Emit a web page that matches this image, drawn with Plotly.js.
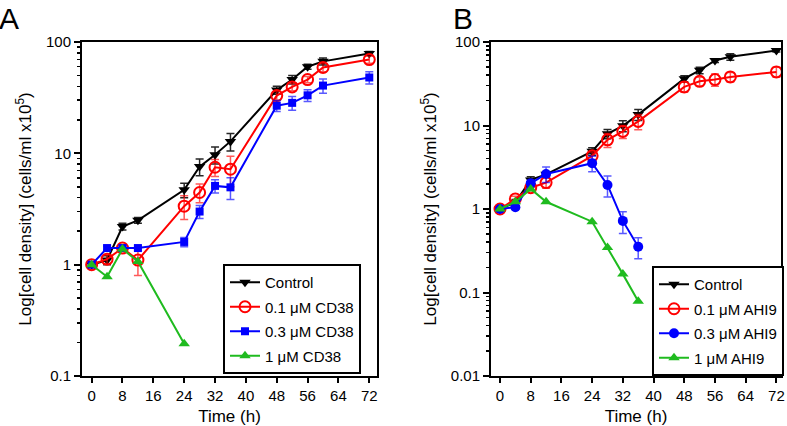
<!DOCTYPE html>
<html>
<head>
<meta charset="utf-8">
<script src="https://cdn.plot.ly/plotly-3.0.1.min.js"></script>
<style>html,body{margin:0;padding:0;background:#fff;}#chart{width:787px;height:426px;}</style>
</head>
<body>
<div id="chart"></div>
<script>
// ---- Data ----
const timeFull = [0, 4, 8, 12, 24, 28, 32, 36, 48, 52, 56, 60, 72];
const timeCD1 = [0, 4, 8, 12, 24];
const timeAHI = [0, 4, 8, 12, 24, 28, 32, 36];

// Panel A
const ctrlA = [1.0, 1.1, 2.2, 2.5, 4.7, 7.6, 9.7, 12.8, 37, 46, 60, 67, 79];
const ctrlAErr = [0.05, 0.1, 0.15, 0.15, 0.7, 1.3, 1.7, 2.3, 3, 4, 3, 5, 3];
const cd01 = [1.0, 1.12, 1.41, 1.1, 3.35, 4.45, 7.5, 7.2, 33, 39.5, 46, 59, 69.5];
const cd01Err = [0.05, 0.1, 0.1, 0.3, 0.8, 0.85, 1.3, 2.2, 3, 3, 3, 5, 5];
const cd03 = [1.0, 1.41, 1.41, 1.41, 1.6, 3.0, 5.1, 4.95, 26.8, 28.4, 33.2, 40.6, 48];
const cd03Err = [0.05, 0.06, 0.05, 0.06, 0.15, 0.4, 0.7, 1.1, 3, 4, 4, 6, 6];
const cd1 = [1.0, 0.78, 1.38, 1.07, 0.195];

// Panel B
const ctrlB = [1.0, 1.2, 2.23, 2.6, 4.9, 7.95, 9.9, 13.5, 36.4, 45.8, 60, 66.4, 79];
const ctrlBErr = [0.05, 0.1, 0.2, 0.2, 0.5, 1.0, 1.5, 2.0, 3, 4, 3, 6, 3];
const ahi01 = [1.0, 1.32, 1.8, 2.07, 4.33, 6.74, 8.5, 11.2, 29, 33.8, 35.5, 38.2, 43.8];
const ahi01Err = [0.05, 0.1, 0.15, 0.3, 0.5, 1.3, 1.5, 2.3, 4, 4, 6, 5, 6];
const ahi03 = [1.0, 1.05, 2.03, 2.63, 3.54, 1.94, 0.72, 0.353];
const ahi03Err = [0.05, 0.05, 0.2, 0.55, 0.75, 0.55, 0.21, 0.1];
const ahi1 = [1.0, 1.22, 1.74, 1.22, 0.705, 0.347, 0.166, 0.0785];

const namesA = ['Control', '0.1 \u03bcM CD38', '0.3 \u03bcM CD38', '1 \u03bcM CD38'];
const namesB = ['Control', '0.1 \u03bcM AHI9', '0.3 \u03bcM AHI9', '1 \u03bcM AHI9'];

const xTickVals = [0, 8, 16, 24, 32, 40, 48, 56, 64, 72];
const xTickText = ['0', '8', '16', '24', '32', '40', '48', '56', '64', '72'];
const yTickValsA = [0.1, 1, 10, 100];
const yTickTextA = ['0.1', '1', '10', '100'];
const yTickValsB = [0.01, 0.1, 1, 10, 100];
const yTickTextB = ['0.01', '0.1', '1', '10', '100'];

// ---- Styling ----
const FONT = 'Liberation Sans, Arial, Helvetica, sans-serif';
const BLACK = '#000000', RED = '#ff0000', BLUE = '#0000ff', GREEN = '#1fbb1f';
const ERR_RED = 'rgba(255,0,0,0.65)', ERR_BLUE = 'rgba(0,0,255,0.65)', ERR_BLACK = 'rgba(0,0,0,0.85)';

function errBar(arr, color) {
  return { type: 'data', array: arr, visible: true, color: color, thickness: 1.5, width: 4 };
}
function tr(x, y, err, name, color, errColor, sym, size, xa, ya, leg, group) {
  const open = sym.indexOf('open') >= 0;
  const t = {
    x: x, y: y, name: name, type: 'scatter', mode: 'lines+markers',
    xaxis: xa, yaxis: ya, legend: leg, legendgroup: group,
    line: { color: color, width: 2 },
    marker: { symbol: sym, size: size, color: color,
              line: { color: color, width: open ? 2 : 0 } },
    cliponaxis: false
  };
  if (err) t.error_y = errBar(err, errColor);
  return t;
}

const data = [
  tr(timeFull, ctrlA, ctrlAErr, namesA[0], BLACK, ERR_BLACK, 'triangle-down', 10, 'x', 'y', 'legend', 'a0'),
  tr(timeFull, cd01, cd01Err, namesA[1], RED, ERR_RED, 'circle-open', 11, 'x', 'y', 'legend', 'a1'),
  tr(timeFull, cd03, cd03Err, namesA[2], BLUE, ERR_BLUE, 'square', 8, 'x', 'y', 'legend', 'a2'),
  tr(timeCD1, cd1, null, namesA[3], GREEN, GREEN, 'triangle-up', 10, 'x', 'y', 'legend', 'a3'),
  tr(timeFull, ctrlB, ctrlBErr, namesB[0], BLACK, ERR_BLACK, 'triangle-down', 10, 'x2', 'y2', 'legend2', 'b0'),
  tr(timeFull, ahi01, ahi01Err, namesB[1], RED, ERR_RED, 'circle-open', 11, 'x2', 'y2', 'legend2', 'b1'),
  tr(timeAHI, ahi03, ahi03Err, namesB[2], BLUE, ERR_BLUE, 'circle', 10, 'x2', 'y2', 'legend2', 'b2'),
  tr(timeAHI, ahi1, null, namesB[3], GREEN, GREEN, 'triangle-up', 10, 'x2', 'y2', 'legend2', 'b3')
];

const W = 787, H = 426;
function xa(domain, range) {
  return {
    domain: domain, range: range, type: 'linear',
    tickmode: 'array', tickvals: xTickVals, ticktext: xTickText,
    ticks: 'outside', ticklen: 5, tickwidth: 2, tickcolor: 'black',
    showline: true, linewidth: 2, linecolor: 'black', mirror: true,
    showgrid: false, zeroline: false,
    tickfont: { family: FONT, size: 15, color: 'black' },
    title: { text: 'Time (h)', font: { family: FONT, size: 17, color: 'black' }, standoff: 8 },
    automargin: false
  };
}
function ya(domain, range, vals, text, anchor) {
  return {
    domain: domain, range: range, type: 'log', anchor: anchor,
    tickmode: 'array', tickvals: vals, ticktext: text,
    ticks: 'outside', ticklen: 6, tickwidth: 2, tickcolor: 'black',
    minor: { ticks: 'outside', ticklen: 3, tickwidth: 1.5, tickcolor: 'black', dtick: 'D1', showgrid: false },
    showline: true, linewidth: 2, linecolor: 'black', mirror: true,
    showgrid: false, zeroline: false,
    tickfont: { family: FONT, size: 15, color: 'black' },
    title: { text: 'Log[cell density] (cells/ml x10<sup>5</sup>)', font: { family: FONT, size: 17, color: 'black' }, standoff: 10 },
    automargin: false
  };
}

const yDom = [(H - 376) / H, (H - 42) / H];
const legendCommon = {
  xanchor: 'left', yanchor: 'top',
  bgcolor: 'white', bordercolor: 'black', borderwidth: 2,
  font: { family: FONT, size: 15, color: 'black' },
  itemwidth: 30, tracegroupgap: 2
};
const layout = {
  width: W, height: H,
  margin: { l: 0, r: 0, t: 0, b: 0 },
  paper_bgcolor: 'white', plot_bgcolor: 'white',
  font: { family: FONT, color: 'black' },
  showlegend: true,
  xaxis: Object.assign(xa([82 / W, 377 / W], [-2.5, 74]), { anchor: 'y' }),
  yaxis: ya(yDom, [-1, 2], yTickValsA, yTickTextA, 'x'),
  xaxis2: Object.assign(xa([491 / W, 781 / W], [-2.35, 73.2]), { anchor: 'y2' }),
  yaxis2: ya(yDom, [-2, 2], yTickValsB, yTickTextB, 'x2'),
  legend: Object.assign({ x: 223 / W, y: (H - 264) / H }, legendCommon),
  legend2: Object.assign({ x: 652 / W, y: (H - 266) / H }, legendCommon),
  annotations: [
    { text: 'A', xref: 'paper', yref: 'paper', x: 0, y: 1, xanchor: 'left', yanchor: 'top',
      showarrow: false, font: { family: FONT, size: 30, color: 'black' }, xshift: -3 },
    { text: 'B', xref: 'paper', yref: 'paper', x: 451 / W, y: 1, xanchor: 'left', yanchor: 'top',
      showarrow: false, font: { family: FONT, size: 30, color: 'black' } }
  ]
};

Plotly.newPlot('chart', data, layout, { displayModeBar: false, staticPlot: true });
</script>
</body>
</html>
